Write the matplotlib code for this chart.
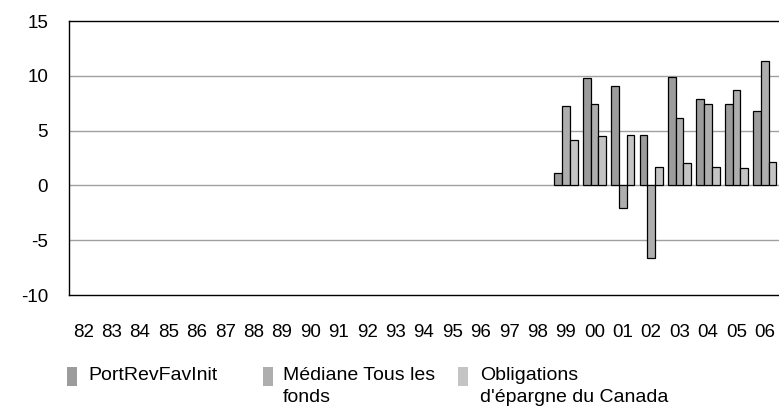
import matplotlib.pyplot as plt
import numpy as np
from matplotlib.patches import Rectangle

plt.rcParams['font.family'] = ['Liberation Sans', 'DejaVu Sans']

# Données (82 à 98 : aucune valeur)
annees = ['82', '83', '84', '85', '86', '87', '88', '89', '90', '91', '92', '93',
          '94', '95', '96', '97', '98', '99', '00', '01', '02', '03', '04', '05', '06']
vides = [np.nan] * 17
port_rev = vides + [1.15, 9.8, 9.05, 4.6, 9.9, 7.85, 7.45, 6.8]
mediane = vides + [7.25, 7.4, -2.1, -6.6, 6.15, 7.4, 8.7, 11.35]
obligations = vides + [4.1, 4.5, 4.6, 1.7, 2.05, 1.7, 1.6, 2.15]

series = [
    ('PortRevFavInit', port_rev, '#9c9c9c'),
    ('Médiane Tous les\nfonds', mediane, '#aeaeae'),
    ("Obligations\nd'épargne du Canada", obligations, '#c4c4c4'),
]

fig = plt.figure(figsize=(7.79, 4.11), dpi=100)
ax = fig.add_axes([69 / 779, 1 - 295 / 411, 710 / 779, 274 / 411])

x = np.arange(len(annees))
largeur = 1 / 3.7
for i, (nom, valeurs, couleur) in enumerate(series):
    ax.bar(x + (i - 1) * largeur, valeurs, largeur, color=couleur,
           edgecolor='black', linewidth=0.9, zorder=3)

ax.set_xlim(-0.5, len(annees) - 0.5)
ax.set_ylim(-10, 15)
ax.set_yticks([-10, -5, 0, 5, 10, 15])
ax.set_yticklabels(['-10', '-5', '0', '5', '10', '15'])
ax.set_xticks(x)
ax.set_xticklabels(annees)
ax.tick_params(axis='both', length=0, labelsize=13.5)
ax.tick_params(axis='x', pad=21)
ax.tick_params(axis='y', pad=15)

for y in [-5, 0, 5, 10]:
    ax.axhline(y, color='#a0a0a0', linewidth=1.0, zorder=1)

for cote in ['left', 'bottom', 'top']:
    ax.spines[cote].set_color('black')
    ax.spines[cote].set_linewidth(1.0)
ax.spines['right'].set_visible(False)

# Légende manuelle (marqueur aligné sur la première ligne)
positions = [(67, 88), (263, 283), (458, 480)]
for (xm, xt), (nom, valeurs, couleur) in zip(positions, series):
    fig.patches.append(Rectangle((xm / 779, 1 - 386 / 411), 10 / 779, 19 / 411,
                                 transform=fig.transFigure, facecolor=couleur,
                                 edgecolor='none'))
    fig.text(xt / 779, 1 - 367 / 411, nom, fontsize=14, va='top', ha='left',
             linespacing=1.35)

fig.savefig('out.png', dpi=100)
